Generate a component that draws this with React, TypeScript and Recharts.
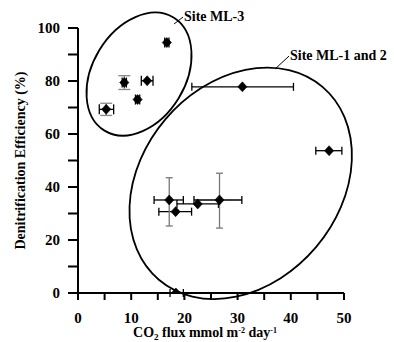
import React from "react";
import {
  ScatterChart,
  Scatter,
  XAxis,
  YAxis,
  ErrorBar,
  ReferenceDot,
} from "recharts";

// ---- data ----
const xTicks = [0, 5, 10, 15, 20, 25, 30, 35, 40, 45, 50];
const yTicks = [0, 10, 20, 30, 40, 50, 60, 70, 80, 90, 100];

// Site ML-3
const ml3X = [5.3, 8.7, 11.2, 13.0, 16.7];
const ml3Y = [69.3, 79.4, 73.0, 80.1, 94.5];
const ml3XErr: (number[] | null)[] = [[1.3, 1.4], [0.4, 0.4], [0.4, 0.4], [1.1, 1.1], [0.4, 0.4]];
const ml3YErr: (number[] | null)[] = [[2.3, 2.3], [2.6, 2.6], null, null, null];

// Site ML-1 and 2
const ml12X = [30.9, 47.2, 17.15, 18.35, 22.5, 26.6, 18.4];
const ml12Y = [77.8, 53.7, 35.1, 30.7, 33.6, 35.1, 0];
const ml12XErr: (number[] | null)[] = [
  [9.5, 9.6],
  [2.5, 2.4],
  [2.85, 2.65],
  [3.15, 3.0],
  [3.9, 3.9],
  [4.8, 4.2],
  [1.1, 1.4],
];
const ml12YErr: (number[] | null)[] = [null, null, [9.8, 8.4], null, null, [10.6, 10.1], null];

// group ellipse centres (data units) and labels
const groupLabels = ["Site ML-3", "Site ML-1 and 2"];
const ellipseCenterX = [11.47, 30.58];
const ellipseCenterY = [82.6, 41.4];
const labelAnchorX = [18.05, 37.03];
const labelAnchorY = [101.5, 84.5];

const ml3Data = ml3X.map((x, i) => ({ x, y: ml3Y[i], xErr: ml3XErr[i], yErr: ml3YErr[i] }));
const ml12Data = ml12X.map((x, i) => ({ x, y: ml12Y[i], xErr: ml12XErr[i], yErr: ml12YErr[i] }));

const FONT = "'Liberation Serif', 'Times New Roman', serif";

const Diamond = (props: any) => {
  const { cx, cy } = props;
  if (cx == null || cy == null) return null;
  const w = 4.6;
  const h = 5;
  return (
    <polygon
      points={`${cx},${cy - h} ${cx + w},${cy} ${cx},${cy + h} ${cx - w},${cy}`}
      fill="#000"
      stroke="#000"
      strokeWidth={0.6}
    />
  );
};

const XTick = (props: any) => {
  const { x, y, payload } = props;
  const v = payload.value;
  const major = v % 10 === 0;
  return (
    <g>
      <line x1={x} y1={y} x2={x} y2={y + 7} stroke="#000" strokeWidth={2} />
      {major && (
        <text
          x={x}
          y={y + 30}
          textAnchor="middle"
          fontFamily={FONT}
          fontWeight="bold"
          fontSize={15}
          fill="#000"
        >
          {v}
        </text>
      )}
    </g>
  );
};

const YTick = (props: any) => {
  const { x, y, payload } = props;
  const v = payload.value;
  const major = v % 20 === 0;
  return (
    <g>
      <line x1={x - 10} y1={y} x2={x} y2={y} stroke="#000" strokeWidth={2} />
      {major && (
        <text
          x={x - 18}
          y={y + 5}
          textAnchor="end"
          fontFamily={FONT}
          fontWeight="bold"
          fontSize={15}
          fill="#000"
        >
          {v}
        </text>
      )}
    </g>
  );
};

const XLabel = (props: any) => {
  const vb = props.viewBox || {};
  const cx = vb.x + vb.width / 2 - 6;
  const y = vb.y + 44;
  return (
    <text x={cx} y={y} textAnchor="middle" fontFamily={FONT} fontWeight="bold" fontSize={14} fill="#000">
      CO
      <tspan dy={2.5} fontSize={9}>2</tspan>
      <tspan dy={-2.5}> flux mmol m</tspan>
      <tspan dy={-4} fontSize={8}>-2</tspan>
      <tspan dy={4}> day</tspan>
      <tspan dy={-4} fontSize={8}>-1</tspan>
    </text>
  );
};

const YLabel = (props: any) => {
  const vb = props.viewBox || {};
  const x = vb.x + 20;
  const y = vb.y + vb.height / 2;
  return (
    <text
      x={x}
      y={y}
      transform={`rotate(-90 ${x} ${y})`}
      textAnchor="middle"
      dominantBaseline="central"
      fontFamily={FONT}
      fontWeight="bold"
      fontSize={14}
      fill="#000"
    >
      Denitrification Efficiency (%)
    </text>
  );
};

const makeEllipse = (rx: number, ry: number, angle: number) => (props: any) => {
  const { cx, cy } = props;
  if (cx == null || cy == null) return null;
  return (
    <ellipse
      cx={cx}
      cy={cy}
      rx={rx}
      ry={ry}
      transform={`rotate(${angle} ${cx} ${cy})`}
      fill="none"
      stroke="#000"
      strokeWidth={1.8}
    />
  );
};

const makeCallout = (text: string, dx: number, dy: number) => (props: any) => {
  const { cx, cy } = props;
  if (cx == null || cy == null) return null;
  return (
    <g>
      <line x1={cx} y1={cy} x2={cx + dx} y2={cy + dy} stroke="#000" strokeWidth={1} />
      <text
        x={cx + dx + 1}
        y={cy + dy + 4}
        fontFamily={FONT}
        fontWeight="bold"
        fontSize={14}
        fill="#000"
      >
        {text}
      </text>
    </g>
  );
};

export default function App() {
  return (
    <div style={{ position: "absolute", left: 0, top: 0, background: "#fff" }}>
      <ScatterChart
        width={394}
        height={342}
        margin={{ top: 28, right: 50, bottom: 0, left: 0 }}
      >
        <XAxis
          type="number"
          dataKey="x"
          domain={[0, 50]}
          ticks={xTicks}
          interval={0}
          height={49}
          tickSize={0}
          tickMargin={0}
          tickLine={false}
          tick={<XTick />}
          axisLine={{ stroke: "#000", strokeWidth: 2 }}
          label={<XLabel />}
          allowDataOverflow
        />
        <YAxis
          type="number"
          dataKey="y"
          domain={[0, 100]}
          ticks={yTicks}
          interval={0}
          width={78}
          tickSize={0}
          tickMargin={0}
          tickLine={false}
          tick={<YTick />}
          axisLine={{ stroke: "#000", strokeWidth: 2 }}
          label={<YLabel />}
          allowDataOverflow
        />
        <ReferenceDot
          x={ellipseCenterX[0]}
          y={ellipseCenterY[0]}
          ifOverflow="visible"
          shape={makeEllipse(66.2, 46.4, -58.6)}
        />
        <ReferenceDot
          x={ellipseCenterX[1]}
          y={ellipseCenterY[1]}
          ifOverflow="visible"
          shape={makeEllipse(126.5, 98.8, -49.7)}
        />
        <ReferenceDot
          x={labelAnchorX[0]}
          y={labelAnchorY[0]}
          ifOverflow="visible"
          shape={makeCallout(groupLabels[0], 9, -7)}
        />
        <ReferenceDot
          x={labelAnchorX[1]}
          y={labelAnchorY[1]}
          ifOverflow="visible"
          shape={makeCallout(groupLabels[1], 14, -13)}
        />
        <Scatter data={ml3Data} isAnimationActive={false} shape={<Diamond />}>
          <ErrorBar dataKey="xErr" direction="x" width={5} stroke="#000" strokeWidth={1.3} isAnimationActive={false} />
          <ErrorBar dataKey="yErr" direction="y" width={6} stroke="#888" strokeWidth={1.3} isAnimationActive={false} />
        </Scatter>
        <Scatter data={ml12Data} isAnimationActive={false} shape={<Diamond />}>
          <ErrorBar dataKey="xErr" direction="x" width={4} stroke="#000" strokeWidth={1.3} isAnimationActive={false} />
          <ErrorBar dataKey="yErr" direction="y" width={3.5} stroke="#777" strokeWidth={1.3} isAnimationActive={false} />
        </Scatter>
      </ScatterChart>
    </div>
  );
}
